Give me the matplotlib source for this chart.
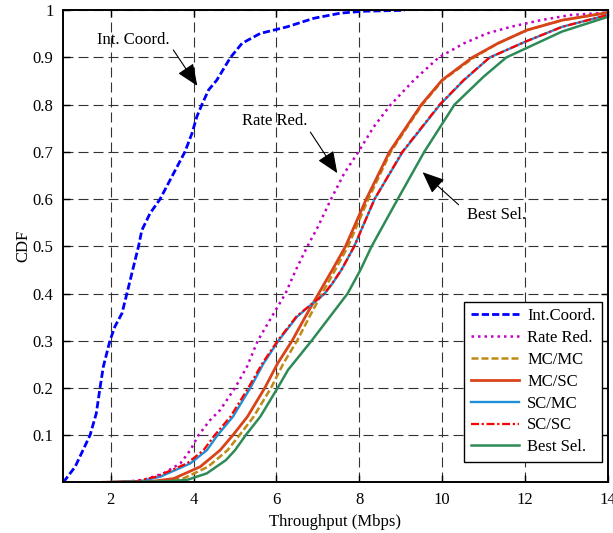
#!/usr/bin/python3

#
# CDF of user throughput for the coordination / selection schemes.
#

import matplotlib
matplotlib.use('Agg')
import matplotlib.pyplot as plt

plt.rcParams['font.family'] = ['Liberation Serif', 'DejaVu Serif']
plt.rcParams['font.size'] = 12

# throughput (Mbps) at which each curve reaches the given CDF level
int_coord_y = [0, 0.033, 0.1, 0.146, 0.2, 0.245, 0.3, 0.33, 0.358, 0.4, 0.443, 0.5,
               0.534, 0.57, 0.6, 0.64, 0.7, 0.739, 0.775, 0.8, 0.831, 0.852, 0.9,
               0.93, 0.951, 0.965, 0.983, 0.994, 0.998, 1.0]
int_coord_x = [0.854, 1.14, 1.50, 1.65, 1.74, 1.82, 1.98, 2.10, 2.27, 2.39, 2.51, 2.67,
               2.75, 2.95, 3.19, 3.43, 3.79, 3.96, 4.08, 4.20, 4.36, 4.56, 4.89,
               5.17, 5.61, 6.26, 6.90, 7.55, 8.10, 9.10]

rate_red_y = [0, 0.005, 0.019, 0.04, 0.068, 0.1, 0.132, 0.153, 0.2, 0.245, 0.3, 0.351,
              0.4, 0.45, 0.5, 0.541, 0.6, 0.655, 0.7, 0.753, 0.8, 0.852, 0.9, 0.93,
              0.951, 0.965, 0.979, 0.99, 0.995]
rate_red_x = [2.2, 2.79, 3.27, 3.68, 3.92, 4.12, 4.40, 4.64, 5.0, 5.29, 5.55, 5.89,
              6.22, 6.47, 6.75, 7.0, 7.32, 7.64, 7.98, 8.35, 8.76, 9.32, 9.92, 10.53,
              11.09, 11.66, 12.38, 13.1, 14.0]

mc_y = [0, 0.002, 0.008, 0.033, 0.068, 0.1, 0.139, 0.2, 0.252, 0.3, 0.351, 0.4, 0.45,
        0.5, 0.6, 0.7, 0.8, 0.852, 0.9, 0.93, 0.958, 0.979, 0.995]
mc_mc_x = [1.8, 3.1, 3.75, 4.35, 4.82, 5.11, 5.45, 5.87, 6.17, 6.50, 6.80, 7.10, 7.42,
           7.73, 8.22, 8.76, 9.52, 10.02, 10.77, 11.35, 12.05, 12.9, 14.0]
mc_sc_x = [1.8, 3.0, 3.52, 4.16, 4.64, 4.95, 5.30, 5.72, 6.03, 6.38, 6.70, 7.02, 7.35,
           7.67, 8.17, 8.73, 9.50, 10.0, 10.73, 11.35, 12.05, 12.9, 14.0]

sc_y = [0, 0.002, 0.012, 0.04, 0.068, 0.1, 0.139, 0.2, 0.252, 0.3, 0.351, 0.372, 0.386,
        0.4, 0.422, 0.45, 0.5, 0.6, 0.7, 0.8, 0.852, 0.9, 0.933, 0.965, 0.99]
sc_mc_x = [1.8, 2.7, 3.2, 3.92, 4.32, 4.58, 4.95, 5.37, 5.69, 6.05, 6.50, 6.78, 6.98,
           7.17, 7.36, 7.57, 7.88, 8.37, 9.05, 9.95, 10.53, 11.15, 12.0, 12.9, 14.0]
sc_sc_x = [1.8, 2.6, 3.1, 3.84, 4.24, 4.51, 4.89, 5.32, 5.66, 6.03, 6.48, 6.77, 6.97,
           7.16, 7.35, 7.57, 7.88, 8.37, 9.04, 9.94, 10.52, 11.15, 12.0, 12.9, 14.0]

best_sel_y = [0, 0.002, 0.005, 0.019, 0.047, 0.068, 0.1, 0.139, 0.2, 0.238, 0.3, 0.4,
              0.45, 0.5, 0.6, 0.7, 0.8, 0.859, 0.9, 0.955, 0.986]
best_sel_x = [1.8, 3.3, 3.84, 4.32, 4.78, 5.0, 5.26, 5.61, 6.03, 6.28, 6.85, 7.72,
              8.03, 8.30, 8.93, 9.57, 10.30, 11.0, 11.55, 12.9, 14.0]

labels = ['Int.Coord.', 'Rate Red.', 'MC/MC', 'MC/SC', 'SC/MC', 'SC/SC', 'Best Sel.']

fig = plt.figure(figsize=(6.13, 5.33), dpi=100)
ax = fig.add_axes([0.1033, 0.0951, 0.888, 0.8856])

ax.plot(int_coord_x, int_coord_y, color='#0000FF', lw=2.0,
        linestyle=(0, (2.6, 1.1)), label=labels[0])
ax.plot(rate_red_x, rate_red_y, color='#C400C4', lw=1.8,
        linestyle=(0, (1, 1.6)), label=labels[1])
ax.plot(mc_mc_x, mc_y, color='#BE8A14', lw=1.8,
        linestyle=(0, (2.8, 1.2)), label=labels[2])
ax.plot(mc_sc_x, mc_y, color='#D9431A', lw=2.0, label=labels[3])
ax.plot(sc_mc_x, sc_y, color='#1F8FD6', lw=1.7, label=labels[4])
ax.plot(sc_sc_x, sc_y, color='#FF0000', lw=1.6,
        linestyle=(0, (3.6, 1.2, 1, 1.2)), label=labels[5])
ax.plot(best_sel_x, best_sel_y, color='#2E8B57', lw=1.8, label=labels[6])

# axes, ticks, grid
ax.set_xlim(0.854, 14)
ax.set_ylim(0, 1)
ax.set_xticks([2, 4, 6, 8, 10, 12, 14])
ax.set_yticks([0.1, 0.2, 0.3, 0.4, 0.5, 0.6, 0.7, 0.8, 0.9, 1.0])
ax.set_yticklabels(['0.1', '0.2', '0.3', '0.4', '0.5', '0.6', '0.7', '0.8', '0.9', '1'])
ax.tick_params(direction='in', length=5, width=1, top=True, right=True, pad=7)
for s in ax.spines.values():
  s.set_linewidth(1.4)
ax.grid(True, color='0.2', lw=0.8, linestyle=(0, (9, 4.5)))
ax.set_xlabel('Throughput (Mbps)', labelpad=4)
ax.set_ylabel('CDF', labelpad=1)

# curve callouts
arrow = dict(arrowstyle='-|>,head_length=0.9,head_width=0.38', color='k',
             lw=0.8, mutation_scale=15, shrinkA=0, shrinkB=0)
ax.text(2.54, 0.937, 'Int. Coord.', ha='center', va='center')
ax.annotate('', xy=(4.09, 0.84), xytext=(3.51, 0.916), arrowprops=arrow)
ax.text(5.97, 0.766, 'Rate Red.', ha='center', va='center')
ax.annotate('', xy=(7.47, 0.655), xytext=(6.82, 0.742), arrowprops=arrow)
ax.text(11.31, 0.567, 'Best Sel.', ha='center', va='center')
ax.annotate('', xy=(9.53, 0.657), xytext=(10.4, 0.588), arrowprops=arrow)

leg = ax.legend(loc='upper left', bbox_to_anchor=(0.736, 0.383), fontsize=12,
                fancybox=False, framealpha=1, edgecolor='k', handlelength=2.9,
                handletextpad=0.5, labelspacing=0.35, borderpad=0.4,
                borderaxespad=0)
leg.get_frame().set_linewidth(1.0)

plt.savefig('out.png', dpi=100)
